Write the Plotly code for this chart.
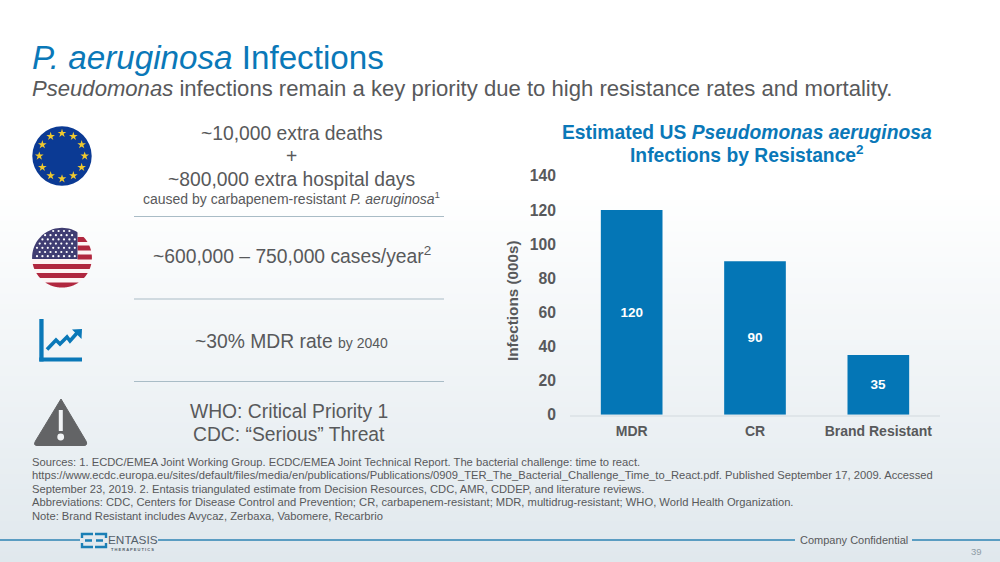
import math
import plotly.graph_objects as go

categories = ["MDR", "CR", "Brand Resistant"]
infections = [120, 90, 35]
y_ticks = [0, 20, 40, 60, 80, 100, 120, 140]

GRAY = "#58595b"
BLUE = "#0a78b8"
BAR = "#0476b6"
FONT = "Liberation Sans, Arial, sans-serif"
W, H = 1000, 562

fig = go.Figure()
fig.add_trace(go.Bar(
    x=categories, y=infections, width=0.5, marker=dict(color=BAR, line_width=0),
    text=infections, textposition="inside", insidetextanchor="middle", textangle=0,
    textfont=dict(family=FONT, size=13.5, color="white", weight="bold"),
    hoverinfo="skip", showlegend=False, xaxis="x", yaxis="y",
))

shapes = []
annotations = []


def T(x, y, text, size, color=GRAY, anchor="center", family=FONT, angle=0):
    annotations.append(dict(
        x=x, y=y, xref="x2", yref="y2", text=text, showarrow=False, xanchor=anchor, yanchor="middle",
        align=anchor, font=dict(family=family, size=size, color=color), borderpad=0, borderwidth=0,
        textangle=angle,
    ))


def P(path, fill=None, line=None, width=0):
    shapes.append(dict(type="path", xref="x2", yref="y2", path=path, fillcolor=fill or "rgba(0,0,0,0)",
                       line=dict(color=line or "rgba(0,0,0,0)", width=width), layer="below"))


def R(x0, y0, x1, y1, fill):
    shapes.append(dict(type="rect", xref="x2", yref="y2", x0=x0, y0=y0, x1=x1, y1=y1, fillcolor=fill,
                       line_width=0, layer="below"))


def L(x0, y0, x1, y1, color, width=1):
    shapes.append(dict(type="line", xref="x2", yref="y2", x0=x0, y0=y0, x1=x1, y1=y1,
                       line=dict(color=color, width=width), layer="below"))


def circ(cx, cy, r, fill):
    shapes.append(dict(type="circle", xref="x2", yref="y2", x0=cx - r, x1=cx + r, y0=cy - r, y1=cy + r,
                       fillcolor=fill, line_width=0, layer="below"))


def clipped(cx, cy, r, y0, y1, xmin, xmax, fill):
    """polygon of a rectangle cut by a circle"""
    y0, y1 = max(y0, cy - r), min(y1, cy + r)
    n = 40
    ys = [y0 + (y1 - y0) * i / n for i in range(n + 1)]
    pts_r, pts_l = [], []
    for y in ys:
        d = max(r * r - (y - cy) ** 2, 0) ** 0.5
        pts_r.append((max(min(cx + d, xmax), xmin), y))
        pts_l.append((min(max(cx - d, xmin), xmax), y))
    pts = pts_r + pts_l[::-1]
    P("M" + " L".join(f"{a:.2f},{b:.2f}" for a, b in pts) + " Z", fill=fill)


# background gradient
N = 72
top, bottom = (255, 255, 255), (224, 232, 237)
start = 190
for i in range(N):
    y0 = start + (H - start) * i / N
    y1 = start + (H - start) * (i + 1) / N + 1
    f = (i + 0.5) / N
    c = tuple(round(top[k] + (bottom[k] - top[k]) * f) for k in range(3))
    shapes.append(dict(type="rect", xref="paper", yref="paper", x0=0, x1=1, y0=1 - y0 / H, y1=1 - min(y1, H) / H,
                       fillcolor=f"rgb{c}", line_width=0, layer="below"))

# Headings
T(32, 57, "<i>P. aeruginosa</i> Infections", 33.2, color=BLUE, anchor="left")
T(32, 88, "<i>Pseudomonas</i> infections remain a key priority due to high resistance rates and mortality.", 22.1, anchor="left")

# Left column
T(291.5, 133, "~10,000 extra deaths", 19.3)
T(291.5, 156, "+", 19.3)
T(291.5, 179, "~800,000 extra hospital days", 19.3)
T(291.5, 197.5, "caused by carbapenem-resistant <i>P. aeruginosa</i><sup>1</sup>", 14)
T(291.5, 255, "~600,000 – 750,000 cases/year<sup>2</sup>", 19.3)
T(291.5, 341, "~30% MDR rate <span style='font-size:14px'>by 2040</span>", 19.3)
T(289, 411, "WHO: Critical Priority 1", 19.3)
T(289, 434, "CDC: “Serious” Threat", 19.3)
for y in (216.5, 299, 381.5):
    L(134, y, 444, y, "#a9bcc6", 1.2)

# Chart heading
T(747, 132, "<b>Estimated US <i>Pseudomonas aeruginosa</i></b>", 19.3, color=BLUE)
T(747, 153.5, "<b>Infections by Resistance<sup>2</sup></b>", 19.3, color=BLUE)
T(512, 301, "<b>Infections (000s)</b>", 15.3, angle=-90)

# Sources
sources = [
    "Sources: 1. ECDC/EMEA Joint Working Group. ECDC/EMEA Joint Technical Report. The bacterial challenge: time to react.",
    "https://www.ecdc.europa.eu/sites/default/files/media/en/publications/Publications/0909_TER_The_Bacterial_Challenge_Time_to_React.pdf. Published September 17, 2009. Accessed",
    "September 23, 2019. 2. Entasis triangulated estimate from Decision Resources, CDC, AMR, CDDEP, and literature reviews.",
    "Abbreviations: CDC, Centers for Disease Control and Prevention; CR, carbapenem-resistant; MDR, multidrug-resistant; WHO, World Health Organization.",
    "Note: Brand Resistant includes Avycaz, Zerbaxa, Vabomere, Recarbrio",
]
for i, s in enumerate(sources):
    T(32, 461.5 + i * 13.6, s, 11.2, anchor="left")

# Footer
FOOT = "#5a9dc2"
for a, b in ((0, 80), (158, 795), (912, 1000)):
    L(a, 540, b, 540, FOOT, 1.8)
T(854, 540, "Company Confidential", 11)
T(976, 551, "39", 9.5, color="#8e9ca5")
# logo
LOGO = "#1b7fb5"
P("M93,534 L82,534 L82,538 M82,543 L82,547 L93,547 M85,540.5 L92,540.5", line=LOGO, width=2.4)
P("M95,534 L106,534 L106,538 M106,543 L106,547 L95,547 M96,540.5 L103,540.5", line=LOGO, width=2.4)
T(108, 540, "ENTASIS", 11.8, color="#54606a", anchor="left")
T(132, 549.5, "<b>T H E R A P E U T I C S</b>", 4, color="#54606a")

# EU icon
circ(62, 156, 29.7, "#0b3a94")
eu_x = [62 + 22.7 * math.sin(math.radians(30 * i)) for i in range(12)]
eu_y = [156 - 22.7 * math.cos(math.radians(30 * i)) for i in range(12)]
fig.add_trace(go.Scatter(x=eu_x, y=eu_y, mode="markers", marker=dict(symbol="star", size=6.5, color="#f0c92e", line_width=0),
                         hoverinfo="skip", showlegend=False, xaxis="x2", yaxis="y2"))

# US flag icon
cx, cy, r = 62, 257.7, 29.9
circ(cx, cy, r, "#fdf4f4")
for yc, xm in ((239.5, 77.5), (248, 77.5), (257, 77.5), (266.5, 0), (275.5, 0), (285, 0)):
    clipped(cx, cy, r, yc - 2.6, yc + 2.6, xm, 200, "#b0273f")
clipped(cx, cy, r, 225, 259, 0, 77.5, "#3f3d72")
ux, uy = [], []
for row in range(7):
    yy = 231 + row * 4.2
    for col in range(8):
        xx = 37 + col * 5.4 + (2.7 if row % 2 else 0)
        if (xx - cx) ** 2 + (yy - cy) ** 2 < (r - 1.5) ** 2 and xx < 76.5:
            ux.append(xx)
            uy.append(yy)
fig.add_trace(go.Scatter(x=ux, y=uy, mode="markers", marker=dict(symbol="circle", size=2.2, color="white", line_width=0),
                         hoverinfo="skip", showlegend=False, xaxis="x2", yaxis="y2"))

# Trend icon
R(39.3, 319, 43.6, 361.5, BLUE)
R(39.3, 357.6, 82, 361.5, BLUE)
P("M47,349.5 L56,340 L60,344 L67,337 L70,341 L77,333", line=BLUE, width=3.6)
P("M72,329.5 L82,329 L81.5,339 Z", fill=BLUE)

# Warning icon
P("M61,399 L86,441 Q88,445.5 84,445.5 L37,445.5 Q33,445.5 35.5,441 Z", fill="#636466", line="#636466", width=1)
R(58.8, 410, 62.8, 431, "#f2f4f6")
circ(60.7, 437, 3.4, "#f2f4f6")

# Plot area
px0, px1 = 570, 940
py_top, py_bot = 175.9, 414.7
fig.update_layout(
    template="none",
    width=W, height=H, margin=dict(l=0, r=0, t=0, b=0, pad=0), autosize=False,
    paper_bgcolor="white", plot_bgcolor="rgba(0,0,0,0)", font=dict(family=FONT),
    shapes=shapes, annotations=annotations, showlegend=False, bargap=0.5,
    xaxis=dict(domain=[px0 / W, px1 / W], anchor="y", type="category", showgrid=False, zeroline=False, automargin=False,
               showline=True, linecolor="#dfe5e9", linewidth=1.5, ticks="", ticklabelstandoff=3,
               tickfont=dict(family=FONT, size=14, color=GRAY, weight="bold"), fixedrange=True),
    yaxis=dict(domain=[1 - py_bot / H, 1 - py_top / H], anchor="x", range=[0, 140], tickvals=y_ticks, automargin=False,
               showgrid=False, zeroline=False, showline=False, ticks="", ticklabelstandoff=13,
               tickfont=dict(family=FONT, size=15.7, color=GRAY, weight="bold"),
               fixedrange=True),
    xaxis2=dict(domain=[0, 1], anchor="y2", range=[0, W], visible=False, fixedrange=True, automargin=False),
    yaxis2=dict(domain=[0, 1], anchor="x2", range=[H, 0], visible=False, fixedrange=True, automargin=False),
)
fig.write_html("out.html", config=dict(displayModeBar=False),
               post_script="document.body.style.margin='0';")
